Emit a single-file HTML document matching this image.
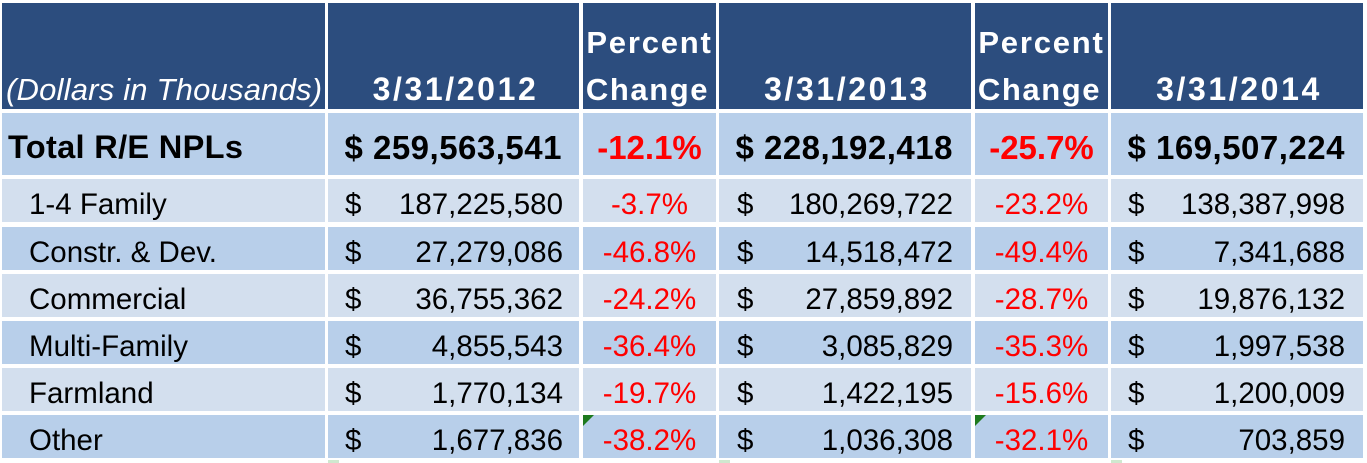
<!DOCTYPE html>
<html>
<head>
<meta charset="utf-8">
<style>
  html,body{margin:0;padding:0;background:#fff;}
  body{width:1367px;height:463px;position:relative;overflow:hidden;font-family:"Liberation Sans",sans-serif;}
  .c{position:absolute;}
  .hd{background:#2C4D7E;}
  .dk{background:#B8CFEA;}
  .lt{background:#D3DFEE;}
  .t{position:absolute;white-space:nowrap;line-height:1;}
  .h{color:#fff;font-weight:bold;font-size:31px;}
  .tot{font-weight:bold;font-size:33px;color:#000;}
  .d{font-size:29.5px;color:#000;}
  .red{color:#FF0000;}
  .tri{position:absolute;width:0;height:0;border-top:11px solid #1E7A1E;border-right:11px solid transparent;}
</style>
</head>
<body>
<!-- header row -->
<div class="c hd" style="left:2px;top:3px;width:323px;height:106px;"></div>
<div class="c hd" style="left:328px;top:3px;width:251px;height:106px;"></div>
<div class="c hd" style="left:583px;top:3px;width:133px;height:106px;"></div>
<div class="c hd" style="left:719px;top:3px;width:252px;height:106px;"></div>
<div class="c hd" style="left:975px;top:3px;width:133px;height:106px;"></div>
<div class="c hd" style="left:1111px;top:3px;width:252px;height:106px;"></div>

<div class="t" style="left:6px;top:74px;color:#fff;font-style:italic;font-size:31px;letter-spacing:0.2px;">(Dollars in Thousands)</div>
<div class="t h" style="left:330px;width:251px;text-align:center;top:73px;font-size:32px;letter-spacing:2.6px;">3/31/2012</div>
<div class="t h" style="left:578px;width:143px;text-align:center;top:27px;letter-spacing:1.8px;">Percent</div>
<div class="t h" style="left:576px;width:143px;text-align:center;top:74px;letter-spacing:1.6px;">Change</div>
<div class="t h" style="left:721px;width:252px;text-align:center;top:73px;font-size:32px;letter-spacing:2.6px;">3/31/2013</div>
<div class="t h" style="left:970px;width:143px;text-align:center;top:27px;letter-spacing:1.8px;">Percent</div>
<div class="t h" style="left:968px;width:143px;text-align:center;top:74px;letter-spacing:1.6px;">Change</div>
<div class="t h" style="left:1113px;width:252px;text-align:center;top:73px;font-size:32px;letter-spacing:2.6px;">3/31/2014</div>

<!-- total row -->
<div class="c dk" style="left:2px;top:113px;width:323px;height:62px;"></div>
<div class="c dk" style="left:328px;top:113px;width:251px;height:62px;"></div>
<div class="c dk" style="left:583px;top:113px;width:133px;height:62px;"></div>
<div class="c dk" style="left:719px;top:113px;width:252px;height:62px;"></div>
<div class="c dk" style="left:975px;top:113px;width:133px;height:62px;"></div>
<div class="c dk" style="left:1111px;top:113px;width:252px;height:62px;"></div>

<div class="t tot" style="left:8px;top:131px;font-size:32.6px;letter-spacing:0.3px;">Total R/E NPLs</div>
<div class="t tot" style="right:805px;top:131px;letter-spacing:0.5px;">$ 259,563,541</div>
<div class="t tot red" style="left:583px;width:133px;text-align:center;top:131px;">-12.1%</div>
<div class="t tot" style="right:414px;top:131px;letter-spacing:0.5px;">$ 228,192,418</div>
<div class="t tot red" style="left:975px;width:133px;text-align:center;top:131px;">-25.7%</div>
<div class="t tot" style="right:22px;top:131px;letter-spacing:0.5px;">$ 169,507,224</div>

<!-- data rows backgrounds -->
<div class="c lt" style="left:2px;top:179px;width:323px;height:43px;"></div>
<div class="c lt" style="left:328px;top:179px;width:251px;height:43px;"></div>
<div class="c lt" style="left:583px;top:179px;width:133px;height:43px;"></div>
<div class="c lt" style="left:719px;top:179px;width:252px;height:43px;"></div>
<div class="c lt" style="left:975px;top:179px;width:133px;height:43px;"></div>
<div class="c lt" style="left:1111px;top:179px;width:252px;height:43px;"></div>

<div class="c dk" style="left:2px;top:227px;width:323px;height:43px;"></div>
<div class="c dk" style="left:328px;top:227px;width:251px;height:43px;"></div>
<div class="c dk" style="left:583px;top:227px;width:133px;height:43px;"></div>
<div class="c dk" style="left:719px;top:227px;width:252px;height:43px;"></div>
<div class="c dk" style="left:975px;top:227px;width:133px;height:43px;"></div>
<div class="c dk" style="left:1111px;top:227px;width:252px;height:43px;"></div>

<div class="c lt" style="left:2px;top:274px;width:323px;height:43px;"></div>
<div class="c lt" style="left:328px;top:274px;width:251px;height:43px;"></div>
<div class="c lt" style="left:583px;top:274px;width:133px;height:43px;"></div>
<div class="c lt" style="left:719px;top:274px;width:252px;height:43px;"></div>
<div class="c lt" style="left:975px;top:274px;width:133px;height:43px;"></div>
<div class="c lt" style="left:1111px;top:274px;width:252px;height:43px;"></div>

<div class="c dk" style="left:2px;top:321px;width:323px;height:43px;"></div>
<div class="c dk" style="left:328px;top:321px;width:251px;height:43px;"></div>
<div class="c dk" style="left:583px;top:321px;width:133px;height:43px;"></div>
<div class="c dk" style="left:719px;top:321px;width:252px;height:43px;"></div>
<div class="c dk" style="left:975px;top:321px;width:133px;height:43px;"></div>
<div class="c dk" style="left:1111px;top:321px;width:252px;height:43px;"></div>

<div class="c lt" style="left:2px;top:368px;width:323px;height:43px;"></div>
<div class="c lt" style="left:328px;top:368px;width:251px;height:43px;"></div>
<div class="c lt" style="left:583px;top:368px;width:133px;height:43px;"></div>
<div class="c lt" style="left:719px;top:368px;width:252px;height:43px;"></div>
<div class="c lt" style="left:975px;top:368px;width:133px;height:43px;"></div>
<div class="c lt" style="left:1111px;top:368px;width:252px;height:43px;"></div>

<div class="c dk" style="left:2px;top:415px;width:323px;height:43px;"></div>
<div class="c dk" style="left:328px;top:415px;width:251px;height:43px;"></div>
<div class="c dk" style="left:583px;top:415px;width:133px;height:43px;"></div>
<div class="c dk" style="left:719px;top:415px;width:252px;height:43px;"></div>
<div class="c dk" style="left:975px;top:415px;width:133px;height:43px;"></div>
<div class="c dk" style="left:1111px;top:415px;width:252px;height:43px;"></div>

<div class="tri" style="left:583px;top:415px;"></div>
<div class="tri" style="left:975px;top:415px;"></div>

<!-- faint green marks at bottom -->
<div class="c" style="left:328px;top:460px;width:11px;height:3px;background:#CFE8CF;"></div>
<div class="c" style="left:719px;top:460px;width:11px;height:3px;background:#CFE8CF;"></div>
<div class="c" style="left:1111px;top:460px;width:11px;height:3px;background:#CFE8CF;"></div>

<!-- Row 1: 1-4 Family (top 179) -->
<div class="t d" style="left:29px;top:190px;">1-4 Family</div>
<div class="t d" style="left:345px;top:190px;">$</div>
<div class="t d" style="right:804px;top:190px;">187,225,580</div>
<div class="t d red" style="left:583px;width:133px;text-align:center;top:190px;">-3.7%</div>
<div class="t d" style="left:737px;top:190px;">$</div>
<div class="t d" style="right:414px;top:190px;">180,269,722</div>
<div class="t d red" style="left:975px;width:133px;text-align:center;top:190px;">-23.2%</div>
<div class="t d" style="left:1128px;top:190px;">$</div>
<div class="t d" style="right:22px;top:190px;">138,387,998</div>

<!-- Row 2: Constr. & Dev. (top 227) -->
<div class="t d" style="left:29px;top:238px;">Constr. &amp; Dev.</div>
<div class="t d" style="left:345px;top:238px;">$</div>
<div class="t d" style="right:804px;top:238px;">27,279,086</div>
<div class="t d red" style="left:583px;width:133px;text-align:center;top:238px;">-46.8%</div>
<div class="t d" style="left:737px;top:238px;">$</div>
<div class="t d" style="right:414px;top:238px;">14,518,472</div>
<div class="t d red" style="left:975px;width:133px;text-align:center;top:238px;">-49.4%</div>
<div class="t d" style="left:1128px;top:238px;">$</div>
<div class="t d" style="right:22px;top:238px;">7,341,688</div>

<!-- Row 3: Commercial (top 274) -->
<div class="t d" style="left:29px;top:285px;">Commercial</div>
<div class="t d" style="left:345px;top:285px;">$</div>
<div class="t d" style="right:804px;top:285px;">36,755,362</div>
<div class="t d red" style="left:583px;width:133px;text-align:center;top:285px;">-24.2%</div>
<div class="t d" style="left:737px;top:285px;">$</div>
<div class="t d" style="right:414px;top:285px;">27,859,892</div>
<div class="t d red" style="left:975px;width:133px;text-align:center;top:285px;">-28.7%</div>
<div class="t d" style="left:1128px;top:285px;">$</div>
<div class="t d" style="right:22px;top:285px;">19,876,132</div>

<!-- Row 4: Multi-Family (top 321) -->
<div class="t d" style="left:29px;top:332px;">Multi-Family</div>
<div class="t d" style="left:345px;top:332px;">$</div>
<div class="t d" style="right:804px;top:332px;">4,855,543</div>
<div class="t d red" style="left:583px;width:133px;text-align:center;top:332px;">-36.4%</div>
<div class="t d" style="left:737px;top:332px;">$</div>
<div class="t d" style="right:414px;top:332px;">3,085,829</div>
<div class="t d red" style="left:975px;width:133px;text-align:center;top:332px;">-35.3%</div>
<div class="t d" style="left:1128px;top:332px;">$</div>
<div class="t d" style="right:22px;top:332px;">1,997,538</div>

<!-- Row 5: Farmland (top 368) -->
<div class="t d" style="left:29px;top:379px;">Farmland</div>
<div class="t d" style="left:345px;top:379px;">$</div>
<div class="t d" style="right:804px;top:379px;">1,770,134</div>
<div class="t d red" style="left:583px;width:133px;text-align:center;top:379px;">-19.7%</div>
<div class="t d" style="left:737px;top:379px;">$</div>
<div class="t d" style="right:414px;top:379px;">1,422,195</div>
<div class="t d red" style="left:975px;width:133px;text-align:center;top:379px;">-15.6%</div>
<div class="t d" style="left:1128px;top:379px;">$</div>
<div class="t d" style="right:22px;top:379px;">1,200,009</div>

<!-- Row 6: Other (top 415) -->
<div class="t d" style="left:29px;top:426px;">Other</div>
<div class="t d" style="left:345px;top:426px;">$</div>
<div class="t d" style="right:804px;top:426px;">1,677,836</div>
<div class="t d red" style="left:583px;width:133px;text-align:center;top:426px;">-38.2%</div>
<div class="t d" style="left:737px;top:426px;">$</div>
<div class="t d" style="right:414px;top:426px;">1,036,308</div>
<div class="t d red" style="left:975px;width:133px;text-align:center;top:426px;">-32.1%</div>
<div class="t d" style="left:1128px;top:426px;">$</div>
<div class="t d" style="right:22px;top:426px;">703,859</div>
</body>
</html>
